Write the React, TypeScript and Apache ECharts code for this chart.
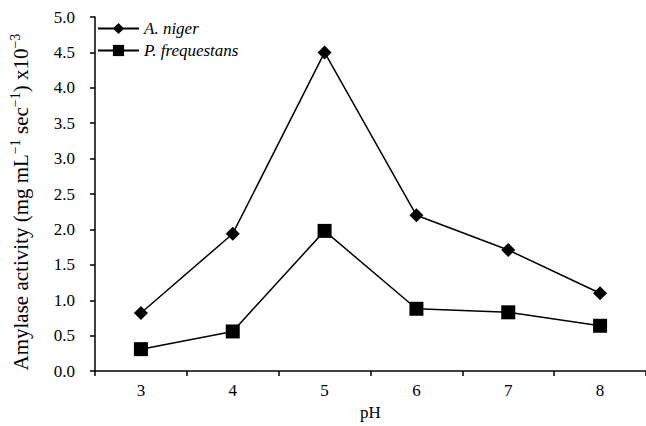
import React, { useEffect, useRef } from "react";
import * as echarts from "echarts";

const phCategories = ["3", "4", "5", "6", "7", "8"];
const aNiger = [0.82, 1.94, 4.5, 2.2, 1.71, 1.1];
const pFrequestans = [0.31, 0.56, 1.98, 0.88, 0.83, 0.64];
const seriesNames = ["A. niger", "P. frequestans"];

const FONT = "'Liberation Serif', 'Times New Roman', serif";

export default function App() {
  const ref = useRef<HTMLDivElement>(null);
  useEffect(() => {
    if (!ref.current) return;
    const chart = echarts.init(ref.current, null, { renderer: "svg" });
    chart.setOption({
      animation: false,
      backgroundColor: "#ffffff",
      textStyle: { fontFamily: FONT, color: "#000" },
      grid: { left: 92, right: -6, top: 17, bottom: 51, containLabel: false },
      legend: {
        orient: "vertical",
        left: 97,
        top: 20,
        padding: 0,
        itemWidth: 41,
        itemHeight: 14,
        itemGap: 5,
        data: seriesNames,
        textStyle: { fontFamily: FONT, fontSize: 17, fontStyle: "italic", color: "#000" },
      },
      xAxis: {
        type: "category",
        data: phCategories,
        name: "pH",
        nameLocation: "middle",
        nameGap: 31,
        nameTextStyle: { fontFamily: FONT, fontSize: 17, color: "#000" },
        axisLine: { lineStyle: { color: "#000", width: 1.5 } },
        axisTick: { show: true, length: 5, lineStyle: { color: "#000", width: 1.5 } },
        axisLabel: { fontFamily: FONT, fontSize: 17, color: "#000", margin: 11 },
        splitLine: { show: false },
      },
      yAxis: {
        type: "value",
        min: 0,
        max: 5,
        interval: 0.5,
        name: "{n|Amylase activity (mg mL}{s|−1}{n| sec}{s|−1}{n|) x10}{s|−3}",
        nameLocation: "middle",
        nameGap: 62,
        nameRotate: 90,
        nameTextStyle: {
          fontFamily: FONT,
          fontSize: 21,
          color: "#000",
          padding: [0, 16, 0, 0],
          rich: {
            n: { fontFamily: FONT, fontSize: 21, color: "#000" },
            s: { fontFamily: FONT, fontSize: 14, color: "#000", padding: [0, 0, 11, 0] },
          },
        },
        axisLine: { show: true, lineStyle: { color: "#000", width: 1.5 } },
        axisTick: { show: true, length: 5, lineStyle: { color: "#000", width: 1.5 } },
        axisLabel: {
          fontFamily: FONT,
          fontSize: 17,
          color: "#000",
          margin: 20,
          formatter: (v: number) => v.toFixed(1),
        },
        splitLine: { show: false },
      },
      series: [
        {
          name: seriesNames[0],
          type: "line",
          data: aNiger,
          symbol: "diamond",
          symbolSize: 14,
          itemStyle: { color: "#000" },
          lineStyle: { color: "#000", width: 1.5 },
        },
        {
          name: seriesNames[1],
          type: "line",
          data: pFrequestans,
          symbol: "rect",
          symbolSize: 14,
          itemStyle: { color: "#000" },
          lineStyle: { color: "#000", width: 1.5 },
        },
      ],
    });
    return () => chart.dispose();
  }, []);
  return (
    <div
      ref={ref}
      style={{ position: "fixed", left: 0, top: 0, width: 646, height: 426, background: "#fff" }}
    />
  );
}
